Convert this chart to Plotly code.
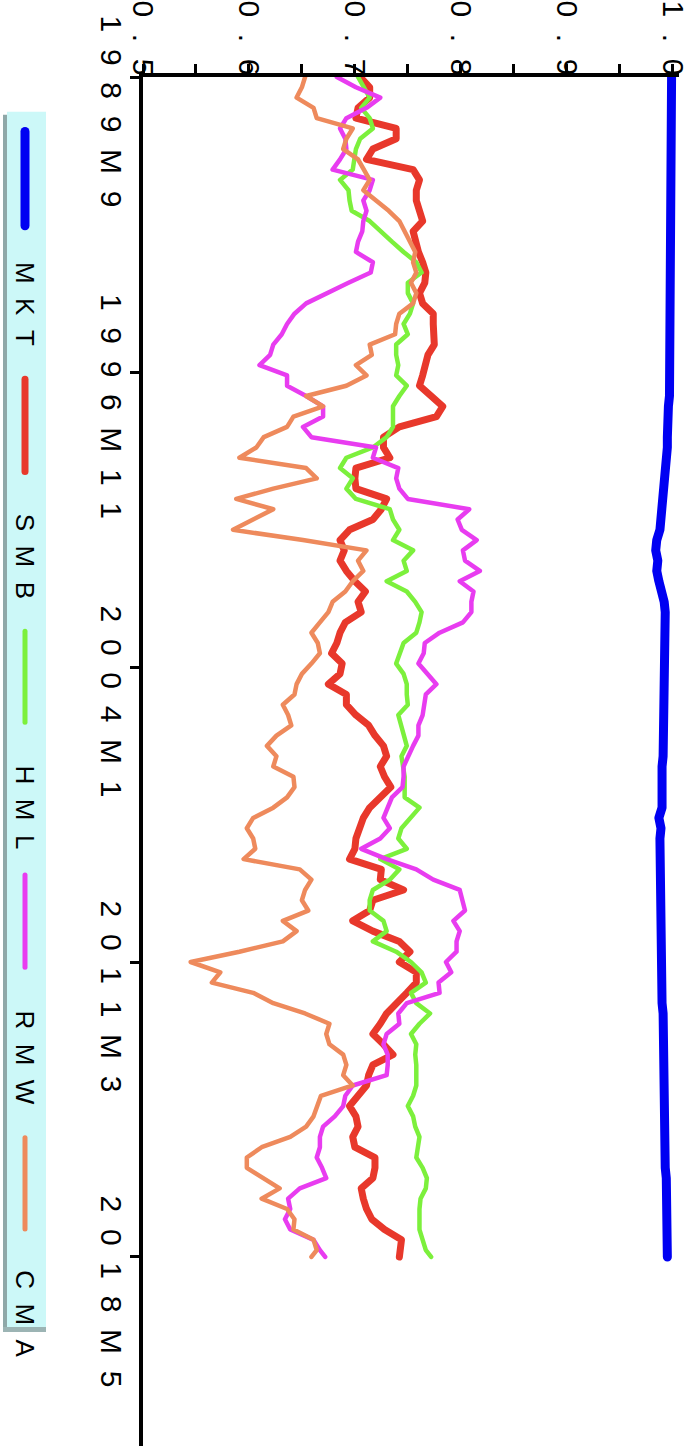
import plotly.graph_objects as go

# ---------------- data ----------------
# month index since 1989M9 (sampled every 3 months, last = 2018M5)
month_idx = list(range(0, 343, 3)) + [344]

date_ticks = [0, 86, 172, 258, 344]
date_labels = ["1989M9", "1996M11", "2004M1", "2011M3", "2018M5"]
value_ticks = [0.5, 0.6, 0.7, 0.8, 0.9, 1.0]
value_labels = ["0.5", "0.6", "0.7", "0.8", "0.9", "1.0"]
value_minor = [0.55, 0.65, 0.75, 0.85, 0.95]

series_names = ["MKT", "SMB", "HML", "RMW", "CMA"]

mkt = [0.999, 0.999, 0.999, 0.999, 0.998, 0.999, 0.997, 0.998, 0.999, 0.999,
       0.999, 0.999, 0.999, 0.999, 0.999, 0.999, 0.999, 0.999, 0.999, 0.999,
       0.999, 0.999, 0.999, 0.998, 0.999, 0.999, 0.998, 0.999, 0.999, 0.999,
       0.999, 0.997, 0.996, 0.995, 0.996, 0.995, 0.995, 0.994, 0.994, 0.994,
       0.993, 0.992, 0.990, 0.990, 0.988, 0.985, 0.984, 0.986, 0.985, 0.987,
       0.990, 0.992, 0.993, 0.993, 0.993, 0.993, 0.993, 0.992, 0.993, 0.991,
       0.992, 0.992, 0.992, 0.992, 0.992, 0.992, 0.991, 0.990, 0.990, 0.990,
       0.990, 0.990, 0.987, 0.989, 0.988, 0.988, 0.988, 0.988, 0.988, 0.988,
       0.988, 0.988, 0.988, 0.989, 0.989, 0.989, 0.989, 0.990, 0.990, 0.990,
       0.990, 0.991, 0.991, 0.991, 0.991, 0.991, 0.992, 0.992, 0.992, 0.992,
       0.992, 0.993, 0.993, 0.993, 0.993, 0.993, 0.993, 0.994, 0.994, 0.994,
       0.994, 0.994, 0.994, 0.995, 0.994, 0.995]

smb = [0.705, 0.714, 0.714, 0.703, 0.701, 0.739, 0.739, 0.717, 0.711, 0.755,
       0.761, 0.758, 0.758, 0.761, 0.764, 0.755, 0.757, 0.760, 0.764, 0.767,
       0.766, 0.761, 0.764, 0.774, 0.774, 0.774, 0.775, 0.769, 0.767, 0.764,
       0.761, 0.771, 0.783, 0.777, 0.742, 0.727, 0.727, 0.733, 0.701, 0.700,
       0.701, 0.730, 0.725, 0.717, 0.695, 0.686, 0.690, 0.686, 0.692, 0.700,
       0.710, 0.703, 0.706, 0.691, 0.686, 0.683, 0.678, 0.688, 0.686, 0.675,
       0.692, 0.692, 0.701, 0.713, 0.719, 0.727, 0.730, 0.724, 0.728, 0.734,
       0.724, 0.714, 0.708, 0.705, 0.701, 0.700, 0.695, 0.725, 0.724, 0.746,
       0.717, 0.714, 0.698, 0.717, 0.742, 0.752, 0.742, 0.758, 0.758, 0.749,
       0.739, 0.730, 0.724, 0.717, 0.727, 0.736, 0.717, 0.713, 0.711, 0.703,
       0.695, 0.701, 0.703, 0.698, 0.700, 0.719, 0.719, 0.717, 0.706, 0.708,
       0.711, 0.716, 0.728, 0.744, 0.742, 0.742]

hml = [0.703, 0.708, 0.714, 0.706, 0.714, 0.717, 0.705, 0.701, 0.700, 0.698,
       0.686, 0.694, 0.695, 0.697, 0.714, 0.724, 0.735, 0.746, 0.758, 0.763,
       0.750, 0.750, 0.755, 0.752, 0.746, 0.750, 0.739, 0.739, 0.741, 0.739,
       0.749, 0.742, 0.736, 0.736, 0.736, 0.730, 0.717, 0.692, 0.686, 0.698,
       0.692, 0.701, 0.733, 0.736, 0.742, 0.736, 0.755, 0.746, 0.749, 0.730,
       0.749, 0.757, 0.763, 0.761, 0.758, 0.746, 0.742, 0.739, 0.746, 0.749,
       0.749, 0.750, 0.741, 0.744, 0.747, 0.749, 0.744, 0.746, 0.747, 0.747,
       0.747, 0.761, 0.752, 0.744, 0.741, 0.749, 0.724, 0.742, 0.733, 0.717,
       0.714, 0.714, 0.727, 0.730, 0.717, 0.739, 0.753, 0.763, 0.767, 0.753,
       0.758, 0.771, 0.761, 0.753, 0.758, 0.757, 0.758, 0.758, 0.758, 0.755,
       0.750, 0.755, 0.757, 0.761, 0.760, 0.758, 0.764, 0.768, 0.767, 0.762,
       0.761, 0.761, 0.761, 0.764, 0.767, 0.772]

rmw = [0.683, 0.701, 0.724, 0.711, 0.692, 0.686, 0.691, 0.692, 0.686, 0.679,
       0.717, 0.714, 0.708, 0.711, 0.708, 0.707, 0.703, 0.701, 0.717, 0.715,
       0.694, 0.673, 0.654, 0.643, 0.636, 0.631, 0.623, 0.620, 0.610, 0.636,
       0.636, 0.654, 0.670, 0.670, 0.651, 0.659, 0.720, 0.717, 0.741, 0.739,
       0.742, 0.750, 0.808, 0.797, 0.801, 0.815, 0.802, 0.804, 0.818, 0.799,
       0.812, 0.810, 0.810, 0.802, 0.780, 0.766, 0.765, 0.760, 0.769, 0.777,
       0.767, 0.766, 0.764, 0.760, 0.760, 0.755, 0.751, 0.746, 0.746, 0.745,
       0.735, 0.731, 0.727, 0.733, 0.724, 0.706, 0.730, 0.758, 0.774, 0.799,
       0.802, 0.804, 0.793, 0.799, 0.796, 0.796, 0.786, 0.791, 0.779, 0.780,
       0.749, 0.741, 0.742, 0.730, 0.727, 0.731, 0.731, 0.730, 0.698, 0.691,
       0.689, 0.681, 0.670, 0.667, 0.667, 0.664, 0.669, 0.673, 0.648, 0.637,
       0.639, 0.634, 0.639, 0.661, 0.667, 0.672]

cma = [0.653, 0.650, 0.645, 0.661, 0.664, 0.698, 0.692, 0.689, 0.703, 0.709,
       0.714, 0.708, 0.720, 0.732, 0.742, 0.747, 0.752, 0.757, 0.755, 0.758,
       0.753, 0.758, 0.755, 0.742, 0.739, 0.738, 0.714, 0.716, 0.701, 0.711,
       0.692, 0.654, 0.670, 0.642, 0.636, 0.614, 0.607, 0.591, 0.654, 0.664,
       0.623, 0.588, 0.623, 0.604, 0.585, 0.651, 0.711, 0.703, 0.708, 0.698,
       0.691, 0.679, 0.675, 0.667, 0.659, 0.665, 0.667, 0.659, 0.650, 0.645,
       0.643, 0.632, 0.637, 0.640, 0.626, 0.617, 0.626, 0.623, 0.642, 0.643,
       0.636, 0.623, 0.604, 0.598, 0.604, 0.606, 0.595, 0.648, 0.659, 0.653,
       0.650, 0.656, 0.632, 0.645, 0.632, 0.591, 0.545, 0.573, 0.565, 0.604,
       0.623, 0.653, 0.676, 0.673, 0.676, 0.689, 0.692, 0.689, 0.698, 0.668,
       0.664, 0.661, 0.654, 0.639, 0.612, 0.598, 0.598, 0.614, 0.629, 0.612,
       0.636, 0.643, 0.642, 0.661, 0.664, 0.659]

series_values = [mkt, smb, hml, rmw, cma]

# ---------------- style ----------------
colors = ["#0000f2", "#e8382b", "#7cf03c", "#e83cf0", "#ee8a5c"]
line_widths = [9, 7, 4.5, 4.5, 4.5]
legend_widths = [9, 7, 5, 5, 5]
FONT = "Liberation Sans, Arial, sans-serif"

W, H = 692, 1446
L_PX, R_PX, T_PX = 143, 679, 65


def spaced(s):
    return "\u00a0\u00a0".join(s)


def xp(px):
    return (px - L_PX) / (R_PX - L_PX)


def yp(py):
    return 1 - (py - T_PX) / (H - T_PX)


fig = go.Figure()
for name, vals, c, w in zip(series_names, series_values, colors, line_widths):
    fig.add_trace(go.Scatter(x=vals, y=month_idx, mode="lines", name=name,
                             line=dict(color=c, width=w), showlegend=False,
                             hoverinfo="skip"))

tickfont = dict(family=FONT, size=30, color="black")
fig.update_layout(
    width=W, height=H, autosize=False,
    margin=dict(l=L_PX, r=W - R_PX, t=T_PX, b=0, pad=0),
    paper_bgcolor="white", plot_bgcolor="white",
    showlegend=False,
    xaxis=dict(range=[0.5, 1.006], side="top", showgrid=False, zeroline=False,
               showline=True, linecolor="black", linewidth=4,
               ticks="outside", ticklen=9, tickwidth=3, tickcolor="black",
               tickmode="array", tickvals=value_ticks,
               ticktext=[spaced(t) for t in value_labels],
               tickangle=90, tickfont=tickfont, ticklabelstandoff=-22,
               minor=dict(tickmode="array", tickvals=value_minor, ticks="outside",
                          ticklen=9, tickwidth=3, tickcolor="black")),
    xaxis2=dict(range=[0.5, 1.006], overlaying="x", anchor="y", side="top",
                showgrid=False, zeroline=False, showline=False,
                ticks="inside", ticklen=9, tickwidth=3, tickcolor="black",
                tickmode="array", tickvals=value_ticks + value_minor,
                showticklabels=False),
    yaxis=dict(range=[399.1, 0], showgrid=False, zeroline=False,
               showline=True, linecolor="black", linewidth=4,
               ticks="outside", ticklen=9, tickwidth=3, tickcolor="black",
               tickmode="array", tickvals=date_ticks,
               ticktext=[spaced(t) for t in date_labels],
               tickangle=90, tickfont=tickfont,
               ticklabelshift=-39, ticklabelstandoff=-7),
    yaxis2=dict(range=[399.1, 0], overlaying="y", anchor="x", side="left",
                showgrid=False, zeroline=False, showline=False,
                ticks="inside", ticklen=9, tickwidth=3, tickcolor="black",
                tickmode="array", tickvals=date_ticks, showticklabels=False),
)

# ---------------- legend (rotated, drawn by hand) ----------------
shapes = []
shapes.append(dict(type="rect", xref="paper", yref="paper",
                   x0=xp(3), x1=xp(8), y0=yp(1331), y1=yp(103),
                   fillcolor="#8fa8a8", line=dict(width=0), layer="above"))
shapes.append(dict(type="rect", xref="paper", yref="paper",
                   x0=xp(7), x1=xp(46), y0=yp(1326), y1=yp(100),
                   fillcolor="#ccf8f8", line=dict(width=0), layer="above"))
shapes.append(dict(type="rect", xref="paper", yref="paper",
                   x0=xp(3), x1=xp(46), y0=yp(1331), y1=yp(1326),
                   fillcolor="#9cb4b4", line=dict(width=0), layer="above"))

legend_line_px = [(120, 215), (370, 463), (624, 716), (870, 963), (1135, 1227)]
legend_text_px = [294, 548, 802, 1054, 1312]
for name, c, w, (a, b), tc in zip(series_names, colors, legend_widths,
                                  legend_line_px, legend_text_px):
    shapes.append(dict(type="line", xref="paper", yref="paper",
                       x0=xp(25), x1=xp(25), y0=yp(a), y1=yp(b),
                       line=dict(color=c, width=w), layer="above"))
    fig.add_annotation(xref="paper", yref="paper", x=xp(25), y=yp(tc),
                       text=spaced(name), textangle=90, showarrow=False,
                       xanchor="center", yanchor="middle",
                       font=dict(family=FONT, size=26, color="black"))
fig.update_layout(shapes=shapes)

post = """
var gd = document.getElementById('{plot_id}');
function fixJoins(){
  gd.querySelectorAll('.scatterlayer .js-line').forEach(function(p){
    p.style.strokeLinejoin='round'; p.style.strokeLinecap='round';});
  gd.querySelectorAll('.shapelayer path').forEach(function(p){
    p.style.strokeLinecap='round';});
}
fixJoins();
gd.on('plotly_afterplot', fixJoins);
"""
fig.write_html("out.html", config={"displayModeBar": False}, post_script=post)
